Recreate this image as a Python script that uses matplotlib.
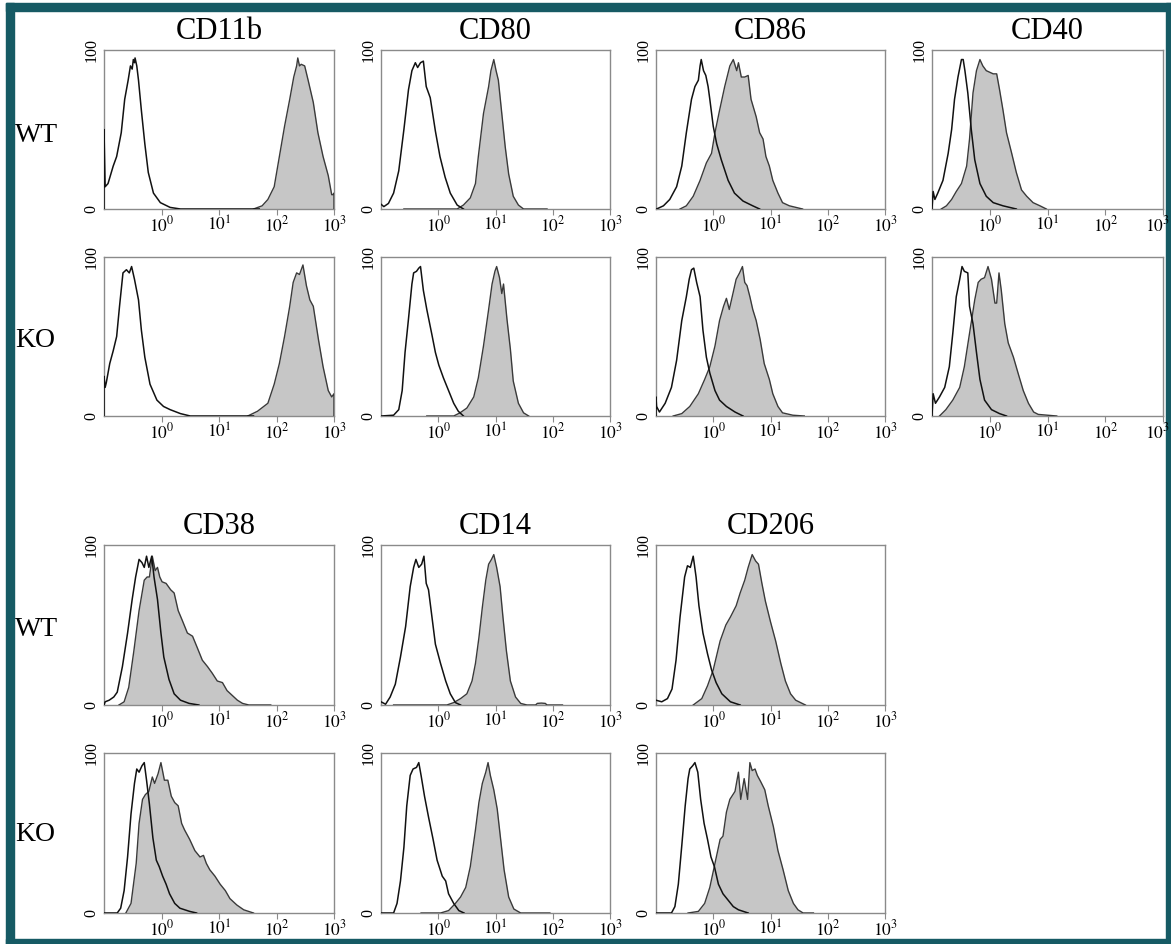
import matplotlib
matplotlib.use("Agg")
import matplotlib.pyplot as plt
import matplotlib.transforms as mtransforms
import numpy as np
from matplotlib.patches import Rectangle
from matplotlib.ticker import NullLocator

# Flow cytometry overlays: x = log10 fluorescence, y = % of max.
# "iso" = open (control) histogram, "stain" = grey filled histogram.

MARKERS_TOP = ["CD11b", "CD80", "CD86", "CD40"]
MARKERS_BOTTOM = ["CD38", "CD14", "CD206"]
GROUPS = ["WT", "KO"]
TICK_VALUES = [1, 10, 100, 1000]
TICK_LABELS = [r"$10^{0}$", r"$10^{1}$", r"$10^{2}$", r"$10^{3}$"]

# ---- CD11b ----
CD11B_WT_ISO_X = [-1.0, -1.0, -0.98, -0.93, -0.84, -0.78, -0.70, -0.64, -0.58, -0.54, -0.51, -0.49,
                  -0.47, -0.46, -0.43, -0.40, -0.35, -0.29, -0.23, -0.14, -0.02, 0.15, 0.33, 1.70]
CD11B_WT_ISO_Y = [0, 50, 14, 16, 27, 33, 48, 69, 81, 90, 88, 94, 92, 95, 90, 81, 62, 41, 23, 10, 4, 1, 0, 0]
CD11B_WT_STAIN_X = [1.60, 1.75, 1.85, 1.96, 2.05, 2.14, 2.23, 2.30, 2.35, 2.37, 2.40, 2.43, 2.49, 2.55,
                    2.64, 2.72, 2.81, 2.90, 2.96, 2.98, 3.00, 3.00]
CD11B_WT_STAIN_Y = [0, 2, 6, 14, 33, 52, 69, 83, 90, 95, 90, 91, 90, 81, 67, 48, 33, 21, 9, 9, 10, 0]
CD11B_KO_ISO_X = [-1.0, -1.0, -0.98, -0.96, -0.90, -0.84, -0.78, -0.73, -0.67, -0.61, -0.56, -0.52,
                  -0.47, -0.40, -0.35, -0.29, -0.20, -0.08, 0.035, 0.15, 0.33, 0.50, 1.60]
CD11B_KO_ISO_Y = [0, 25, 18, 21, 33, 41, 50, 69, 90, 92, 90, 94, 86, 73, 54, 37, 20, 10, 6, 4, 1.5, 0, 0]
CD11B_KO_STAIN_X = [1.50, 1.67, 1.85, 1.96, 2.05, 2.14, 2.23, 2.29, 2.35, 2.40, 2.46, 2.52, 2.58, 2.64,
                    2.73, 2.81, 2.90, 2.96, 3.00, 3.00]
CD11B_KO_STAIN_Y = [0, 3, 8, 20, 33, 50, 69, 84, 90, 89, 95, 82, 73, 69, 48, 31, 16, 12, 14, 0]

# ---- CD80 ----
CD80_WT_ISO_X = [-1.0, -0.95, -0.87, -0.78, -0.69, -0.60, -0.52, -0.46, -0.40, -0.36, -0.31, -0.26,
                 -0.21, -0.14, -0.05, 0.03, 0.12, 0.21, 0.33, 0.44]
CD80_WT_ISO_Y = [3, 1.5, 3.5, 10, 24, 50, 75, 87, 92, 89, 92, 93, 77, 70, 49, 33, 20, 10, 2.5, 0]
CD80_WT_STAIN_X = [-0.60, 0.33, 0.44, 0.56, 0.65, 0.70, 0.79, 0.88, 0.92, 0.97, 1.01, 1.05, 1.11, 1.17,
                   1.23, 1.31, 1.40, 1.49, 1.90]
CD80_WT_STAIN_Y = [0, 0, 2.5, 7, 16, 33, 60, 77, 87, 94, 87, 81, 60, 39, 22, 8, 2.5, 0, 0]
CD80_KO_ISO_X = [-1.0, -0.78, -0.69, -0.63, -0.58, -0.52, -0.46, -0.43, -0.38, -0.34, -0.31, -0.26,
                 -0.20, -0.11, -0.05, 0.01, 0.09, 0.18, 0.27, 0.35, 0.44]
CD80_KO_ISO_Y = [0, 0.5, 4, 16, 40, 61, 83, 90, 91, 93, 94, 79, 67, 51, 40, 32, 24, 16, 8, 3, 0]
CD80_KO_STAIN_X = [-0.2, 0.27, 0.38, 0.50, 0.62, 0.70, 0.79, 0.88, 0.94, 0.99, 1.02, 1.07, 1.11, 1.14,
                   1.20, 1.26, 1.31, 1.40, 1.49, 1.58]
CD80_KO_STAIN_Y = [0, 0, 2, 5, 12, 24, 44, 67, 83, 91, 94, 87, 77, 83, 61, 42, 22, 8, 2, 0]

# ---- CD86 ----
CD86_WT_ISO_X = [-0.99, -0.87, -0.76, -0.64, -0.55, -0.47, -0.38, -0.32, -0.26, -0.23, -0.21, -0.17,
                 -0.13, -0.09, -0.06, 0.0, 0.06, 0.14, 0.26, 0.37, 0.52, 0.69, 0.81]
CD86_WT_ISO_Y = [0, 2, 6, 14, 27, 48, 69, 77, 81, 90, 94, 87, 84, 77, 69, 52, 41, 31, 18, 10, 5, 2, 0]
CD86_WT_STAIN_X = [-0.58, -0.47, -0.35, -0.23, -0.12, -0.03, 0.03, 0.11, 0.20, 0.29, 0.35, 0.41, 0.44,
                   0.49, 0.55, 0.61, 0.66, 0.75, 0.81, 0.87, 0.92, 0.98, 1.04, 1.13, 1.21, 1.33, 1.56]
CD86_WT_STAIN_Y = [0, 2, 8, 18, 29, 35, 48, 62, 77, 90, 94, 87, 92, 83, 83, 84, 69, 58, 48, 44, 33, 27,
                   18, 10, 4, 2, 0]
CD86_KO_ISO_X = [-1.0, -1.0, -0.99, -0.94, -0.84, -0.73, -0.64, -0.55, -0.47, -0.42, -0.38, -0.34,
                 -0.29, -0.23, -0.18, -0.12, -0.06, 0.03, 0.11, 0.23, 0.38, 0.52]
CD86_KO_ISO_Y = [0, 12, 6, 2.5, 8, 18, 35, 60, 75, 86, 92, 93, 84, 75, 54, 37, 27, 16, 10, 6, 2.5, 0]
CD86_KO_STAIN_X = [-0.70, -0.55, -0.41, -0.26, -0.15, -0.06, 0.03, 0.11, 0.18, 0.23, 0.28, 0.35, 0.40,
                   0.46, 0.51, 0.55, 0.59, 0.64, 0.69, 0.75, 0.82, 0.89, 0.98, 1.04, 1.13, 1.21, 1.39, 1.59]
CD86_KO_STAIN_Y = [0, 1.5, 6, 14, 23, 31, 44, 60, 69, 74, 67, 78, 86, 90, 94, 84, 82, 75, 67, 60, 48,
                   33, 23, 14, 6, 2, 0.5, 0]

# ---- CD40 ----
CD40_WT_ISO_X = [-1.0, -0.98, -0.95, -0.90, -0.81, -0.72, -0.66, -0.61, -0.55, -0.49, -0.46, -0.43,
                 -0.38, -0.32, -0.26, -0.17, -0.06, 0.06, 0.23, 0.46]
CD40_WT_ISO_Y = [0, 11, 6, 10, 18, 35, 50, 69, 83, 94, 94, 87, 73, 50, 31, 16, 8, 4, 2, 0]
CD40_WT_STAIN_X = [-0.84, -0.75, -0.66, -0.58, -0.49, -0.40, -0.35, -0.29, -0.23, -0.17, -0.12, -0.06,
                   0.0, 0.06, 0.12, 0.17, 0.23, 0.29, 0.38, 0.46, 0.55, 0.64, 0.75, 0.87, 0.98]
CD40_WT_STAIN_Y = [0, 2, 6, 11, 16, 27, 44, 73, 87, 94, 90, 87, 86, 85, 85, 75, 62, 48, 35, 23, 12, 8,
                   4, 2, 0]
CD40_KO_ISO_X = [-1.0, -0.98, -0.94, -0.87, -0.78, -0.70, -0.64, -0.58, -0.52, -0.48, -0.44, -0.38,
                 -0.35, -0.29, -0.23, -0.17, -0.09, 0.03, 0.17, 0.29]
CD40_KO_ISO_Y = [0, 14, 8, 12, 18, 31, 52, 75, 86, 94, 91, 90, 69, 58, 40, 23, 10, 4, 1.5, 0]
CD40_KO_STAIN_X = [-0.87, -0.76, -0.64, -0.52, -0.44, -0.35, -0.26, -0.20, -0.15, -0.09, -0.03, 0.03,
                   0.09, 0.12, 0.16, 0.20, 0.26, 0.32, 0.41, 0.49, 0.58, 0.67, 0.76, 0.84, 1.16]
CD40_KO_STAIN_Y = [0, 4, 10, 18, 31, 52, 73, 84, 86, 87, 94, 86, 71, 71, 90, 79, 58, 46, 37, 27, 16, 8,
                   2.5, 1, 0]

# ---- CD38 ----
CD38_WT_ISO_X = [-1.0, -0.98, -0.91, -0.83, -0.77, -0.68, -0.59, -0.51, -0.45, -0.39, -0.34, -0.30,
                 -0.26, -0.22, -0.17, -0.13, -0.07, -0.01, 0.04, 0.13, 0.22, 0.33, 0.48, 0.65]
CD38_WT_ISO_Y = [0, 2, 3, 5, 8, 24, 45, 66, 80, 91, 89, 86, 93, 86, 93, 80, 66, 45, 30, 16, 7, 3, 1, 0]
CD38_WT_STAIN_X = [-0.74, -0.65, -0.57, -0.48, -0.39, -0.30, -0.25, -0.21, -0.16, -0.11, -0.07, -0.03,
                   0.01, 0.08, 0.16, 0.22, 0.29, 0.36, 0.45, 0.54, 0.62, 0.71, 0.80, 0.88, 0.97, 1.06,
                   1.14, 1.23, 1.32, 1.41, 1.52, 1.90]
CD38_WT_STAIN_Y = [0, 2, 11, 34, 59, 78, 80, 80, 93, 84, 86, 80, 77, 76, 72, 70, 59, 53, 45, 43, 36, 28,
                   24, 20, 15, 14, 9, 6, 3, 1, 0, 0]
CD38_KO_ISO_X = [-1.0, -0.77, -0.71, -0.65, -0.59, -0.53, -0.47, -0.43, -0.39, -0.34, -0.30, -0.26,
                 -0.21, -0.15, -0.09, -0.04, 0.02, 0.08, 0.14, 0.23, 0.32, 0.49, 0.61]
CD38_KO_ISO_Y = [0, 0, 3, 14, 35, 62, 81, 90, 88, 92, 94, 83, 68, 47, 33, 29, 23, 18, 12, 6, 3, 1, 0]
CD38_KO_STAIN_X = [-0.62, -0.53, -0.44, -0.39, -0.33, -0.28, -0.22, -0.16, -0.12, -0.06, -0.01, 0.05,
                   0.11, 0.17, 0.23, 0.29, 0.35, 0.40, 0.49, 0.58, 0.67, 0.73, 0.78, 0.84, 0.93, 1.02,
                   1.11, 1.19, 1.31, 1.43, 1.60]
CD38_KO_STAIN_Y = [0, 6, 31, 56, 71, 74, 76, 85, 81, 87, 94, 83, 83, 73, 69, 67, 56, 52, 46, 39, 35, 36,
                   31, 27, 23, 18, 14, 9, 5, 2, 0]

# ---- CD14 ----
CD14_WT_ISO_X = [-1.0, -0.92, -0.84, -0.75, -0.66, -0.57, -0.49, -0.43, -0.39, -0.34, -0.29, -0.25,
                 -0.21, -0.17, -0.11, -0.05, 0.04, 0.13, 0.21, 0.30, 0.39]
CD14_WT_ISO_Y = [2, 0.5, 5, 13, 30, 49, 74, 86, 91, 86, 88, 93, 76, 72, 55, 38, 26, 15, 7, 1.5, 0]
CD14_WT_STAIN_X = [-0.78, 0.15, 0.27, 0.39, 0.50, 0.59, 0.65, 0.71, 0.77, 0.83, 0.88, 0.93, 0.97, 1.02,
                   1.08, 1.13, 1.19, 1.26, 1.35, 1.44, 1.55, 1.70, 1.73, 1.80, 1.87, 1.90, 2.17]
CD14_WT_STAIN_Y = [0, 0, 1.5, 4, 7, 15, 26, 42, 61, 78, 88, 91, 94, 86, 74, 55, 34, 15, 5, 1, 0, 0, 1,
                   1.2, 1, 0, 0]
CD14_KO_ISO_X = [-1.0, -0.78, -0.72, -0.66, -0.60, -0.55, -0.49, -0.44, -0.38, -0.34, -0.30, -0.24,
                 -0.17, -0.09, -0.02, 0.07, 0.13, 0.18, 0.27, 0.36, 0.45]
CD14_KO_ISO_Y = [0, 0, 6, 20, 41, 67, 86, 90, 91, 94, 86, 73, 60, 46, 33, 23, 20, 12, 6, 1.5, 0]
CD14_KO_STAIN_X = [-0.3, 0.04, 0.18, 0.30, 0.39, 0.48, 0.56, 0.65, 0.71, 0.77, 0.83, 0.87, 0.91, 0.97,
                   1.03, 1.09, 1.15, 1.23, 1.32, 1.44, 1.95]
CD14_KO_STAIN_Y = [0, 0, 1.5, 6, 10, 16, 29, 52, 69, 81, 88, 94, 86, 77, 65, 46, 27, 10, 2.5, 0, 0]

# ---- CD206 ----
CD206_WT_ISO_X = [-1.0, -0.90, -0.80, -0.72, -0.65, -0.58, -0.50, -0.45, -0.40, -0.35, -0.30, -0.25,
                  -0.18, -0.10, -0.03, 0.05, 0.15, 0.30, 0.47]
CD206_WT_ISO_Y = [3, 2, 4, 10, 28, 55, 80, 87, 86, 93, 80, 62, 45, 32, 22, 14, 7, 2, 0]
CD206_WT_STAIN_X = [-0.35, -0.20, -0.10, 0.0, 0.12, 0.22, 0.30, 0.40, 0.47, 0.55, 0.61, 0.68, 0.74,
                    0.79, 0.85, 0.91, 1.0, 1.09, 1.18, 1.26, 1.35, 1.44, 1.61]
CD206_WT_STAIN_Y = [0, 4, 12, 22, 40, 50, 55, 62, 70, 78, 86, 94, 90, 88, 76, 65, 52, 40, 26, 15, 7, 3, 0]
CD206_KO_ISO_X = [-1.0, -0.73, -0.67, -0.61, -0.55, -0.49, -0.44, -0.41, -0.36, -0.32, -0.27, -0.22,
                  -0.16, -0.10, -0.04, 0.02, 0.09, 0.17, 0.26, 0.35, 0.44, 0.61]
CD206_KO_ISO_Y = [0, 0, 4, 18, 42, 67, 84, 90, 92, 94, 88, 71, 56, 46, 35, 29, 18, 12, 8, 4, 2, 0]
CD206_KO_STAIN_X = [-0.44, -0.26, -0.15, -0.06, 0.03, 0.12, 0.17, 0.23, 0.29, 0.38, 0.44, 0.48, 0.54,
                    0.60, 0.64, 0.68, 0.73, 0.77, 0.83, 0.90, 0.96, 1.05, 1.13, 1.22, 1.31, 1.40, 1.48,
                    1.57, 1.75]
CD206_KO_STAIN_Y = [0, 1, 6, 16, 31, 46, 48, 63, 71, 76, 88, 71, 84, 71, 94, 89, 90, 86, 82, 77, 67, 54,
                    39, 27, 14, 6, 2, 0, 0]

# panels: (row, col, title or None, iso x, iso y, stain x, stain y)
PANELS = [
    (0, 0, "CD11b", CD11B_WT_ISO_X, CD11B_WT_ISO_Y, CD11B_WT_STAIN_X, CD11B_WT_STAIN_Y),
    (1, 0, None, CD11B_KO_ISO_X, CD11B_KO_ISO_Y, CD11B_KO_STAIN_X, CD11B_KO_STAIN_Y),
    (0, 1, "CD80", CD80_WT_ISO_X, CD80_WT_ISO_Y, CD80_WT_STAIN_X, CD80_WT_STAIN_Y),
    (1, 1, None, CD80_KO_ISO_X, CD80_KO_ISO_Y, CD80_KO_STAIN_X, CD80_KO_STAIN_Y),
    (0, 2, "CD86", CD86_WT_ISO_X, CD86_WT_ISO_Y, CD86_WT_STAIN_X, CD86_WT_STAIN_Y),
    (1, 2, None, CD86_KO_ISO_X, CD86_KO_ISO_Y, CD86_KO_STAIN_X, CD86_KO_STAIN_Y),
    (0, 3, "CD40", CD40_WT_ISO_X, CD40_WT_ISO_Y, CD40_WT_STAIN_X, CD40_WT_STAIN_Y),
    (1, 3, None, CD40_KO_ISO_X, CD40_KO_ISO_Y, CD40_KO_STAIN_X, CD40_KO_STAIN_Y),
    (2, 0, "CD38", CD38_WT_ISO_X, CD38_WT_ISO_Y, CD38_WT_STAIN_X, CD38_WT_STAIN_Y),
    (3, 0, None, CD38_KO_ISO_X, CD38_KO_ISO_Y, CD38_KO_STAIN_X, CD38_KO_STAIN_Y),
    (2, 1, "CD14", CD14_WT_ISO_X, CD14_WT_ISO_Y, CD14_WT_STAIN_X, CD14_WT_STAIN_Y),
    (3, 1, None, CD14_KO_ISO_X, CD14_KO_ISO_Y, CD14_KO_STAIN_X, CD14_KO_STAIN_Y),
    (2, 2, "CD206", CD206_WT_ISO_X, CD206_WT_ISO_Y, CD206_WT_STAIN_X, CD206_WT_STAIN_Y),
    (3, 2, None, CD206_KO_ISO_X, CD206_KO_ISO_Y, CD206_KO_STAIN_X, CD206_KO_STAIN_Y),
]

# layout in pixels of the 1171x944 canvas
W, H = 1171, 944
COLS = [(104, 334), (381, 610), (656, 885), (932, 1163)]
ROWS = [(50, 209), (257, 416), (545, 705), (753, 913)]
ROW_LABEL_BASE = [142, 347, 636, 841]

FILL = "#c6c6c6"
FILL_EDGE = "#3a3a3a"
LINE = "#111111"
SPINE = "#8a8a8a"
BORDER = "#165a64"

plt.rcParams.update({
    "font.family": "Liberation Serif",
    "mathtext.fontset": "stix",
})

fig = plt.figure(figsize=(W / 100, H / 100), dpi=100)
fig.patch.set_facecolor("white")


def px_axes(col, row):
    l, r = COLS[col]
    t, b = ROWS[row]
    return fig.add_axes([l / W, 1 - b / H, (r - l) / W, (b - t) / H])


for row, col, title, ix, iy, sx, sy in PANELS:
    ax = px_axes(col, row)
    sxx = 10 ** np.array(sx)
    ax.fill_between(sxx, sy, 0, color=FILL, linewidth=0, zorder=2)
    ax.plot(sxx, sy, color=FILL_EDGE, lw=1.0, zorder=3)
    ax.plot(10 ** np.array(ix), iy, color=LINE, lw=1.1, zorder=4)

    ax.set_xscale("log")
    ax.set_xlim(0.1, 1000)
    ax.set_ylim(0, 100)
    ax.set_xticks(TICK_VALUES)
    ax.set_xticklabels(TICK_LABELS)
    ax.xaxis.set_minor_locator(NullLocator())
    ax.tick_params(axis="x", direction="out", length=4, width=0.8, color=SPINE,
                   labelsize=12.5, pad=0.5)
    ax.set_yticks([0, 100])
    ax.set_yticklabels(["0", "100"], rotation=90, va="center")
    ax.tick_params(axis="y", length=0, labelsize=11.5, pad=3)
    for sp in ax.spines.values():
        sp.set_color(SPINE)
        sp.set_linewidth(1.0)
    if title:
        ax.set_title(title, fontsize=22, pad=8)
    if col == 3:
        # keep the last label inside the frame, as in the source figure
        last = ax.get_xticklabels()[-1]
        last.set_transform(last.get_transform() +
                           mtransforms.ScaledTranslation(-6 / 100, 0, fig.dpi_scale_trans))

for i, base in enumerate(ROW_LABEL_BASE):
    fig.text(15 / W, 1 - base / H, GROUPS[i % 2], fontsize=20, ha="left", va="baseline")

# teal frame around the figure
for x0, y0, w, h in [(6, 3, 1165, 8), (6, 3, 8, 941), (1166, 3, 5, 941), (6, 939, 1165, 5)]:
    fig.patches.append(Rectangle((x0 / W, 1 - (y0 + h) / H), w / W, h / H,
                                 transform=fig.transFigure, color=BORDER, zorder=-1))

fig.savefig("out.png", dpi=100, facecolor="white")
